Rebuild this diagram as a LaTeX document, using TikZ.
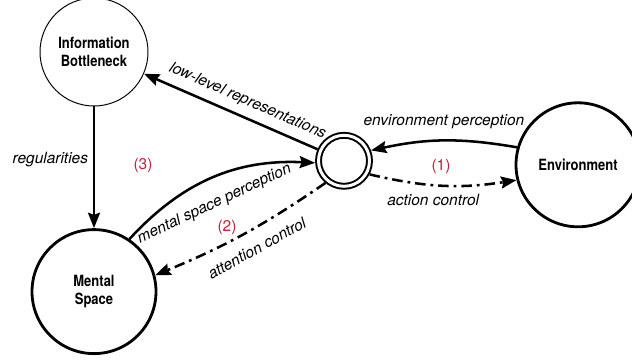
\documentclass[tikz,border=0pt]{standalone}
\usepackage{fontspec}
\setmainfont{TeX Gyre Heros}
\newfontfamily\namefont[FakeStretch=0.84]{TeX Gyre Heros}
\usetikzlibrary{arrows.meta}
\definecolor{numred}{RGB}{196,30,58}
\begin{document}
\begin{tikzpicture}
    [state/.style={circle,draw,line width=2pt,inner sep=0pt,minimum size=3.1cm,align=center,
                   font=\namefont\bfseries\fontsize{11}{13}\selectfont},
     arr/.style={line width=1.8pt,-{Stealth[length=11pt,width=8.5pt,inset=1.5pt]}},
     ctrl/.style={dash pattern=on 7.5pt off 3.5pt on 2pt off 3.5pt},
     lab/.style={font=\itshape\fontsize{11}{13}\selectfont},
     num/.style={text=numred,font=\fontsize{11}{13}\selectfont}]
    \useasboundingbox (0,0) rectangle (15.8,9.05);
    \node (ib) at (2.35, 7.75) [state,line width=0.7pt,minimum size=2.7cm] {Information\\Bottleneck};
    \node (ms) at (2.35, 1.76) [state] {Mental\\Space};
    \node (env) at (14.45, 4.93) [state] {Environment};
    \node (agent) at (8.6, 5.03) [circle,draw,line width=1.4pt,double,double distance=2.1pt,
                                 inner sep=0pt,outer sep=2.45pt,minimum size=1.275cm] {};
    \node (n1) at (11.025, 4.9) [num] {(1)};
    \node (n2) at (5.675, 3.375) [num] {(2)};
    \node (n3) at (3.575, 4.925) [num] {(3)};
    \draw [arr] (agent) -- node [lab,sloped,above=2pt,pos=0.44] {low-level representations} (ib);
    \draw [arr] (ib) -- node [lab,left,pos=0.44] {regularities} (ms);
    \draw [arr] (env.164) to [bend right=11] node [lab,above=4.5pt,pos=0.5] {environment perception} (agent.21);
    \draw [arr,ctrl] (agent.-28) to [bend right=11] node [lab,below=2.5pt,pos=0.43] {action control} (env.194);
    \draw [arr] (ms.56) to [bend left=25] node [lab,sloped,below=8pt,pos=0.45] {mental space perception} (agent.184);
    \draw [arr,ctrl] (agent.230) to [bend left=6] node [lab,sloped,below=5pt,pos=0.47] {attention control} (ms.15);
  \end{tikzpicture}
\end{document}
